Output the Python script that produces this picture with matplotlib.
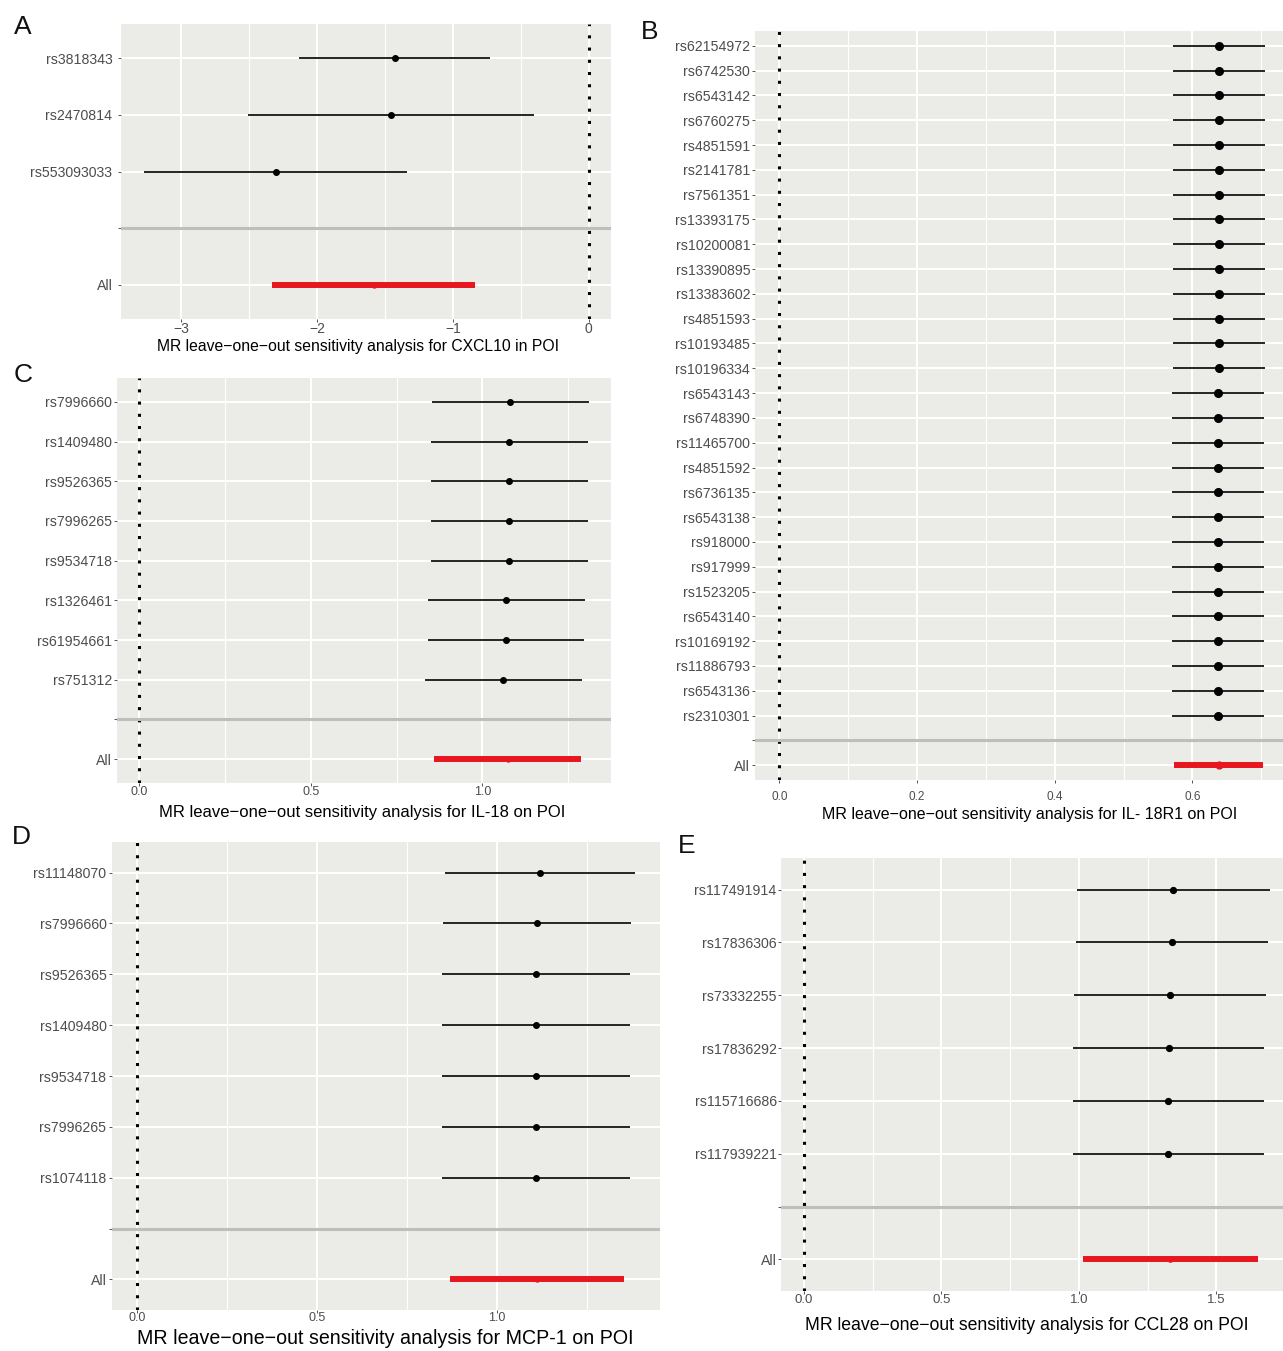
import matplotlib
matplotlib.use("Agg")
import matplotlib.pyplot as plt
import numpy as np

# ---------------- data ----------------
# Panel A: CXCL10
A_snps = ["rs3818343", "rs2470814", "rs553093033"]
A_b = [-1.429, -1.456, -2.306]
A_lo = [-2.131, -2.508, -3.277]
A_hi = [-0.724, -0.401, -1.336]
A_all = [-1.584, -2.333, -0.835]   # b, lo, hi
A_major = [-3, -2, -1, 0]
A_major_labels = ["\u22123", "\u22122", "\u22121", "0"]
A_minor = [-2.5, -1.5, -0.5]
A_title = "MR leave\u2212one\u2212out sensitivity analysis for CXCL10 in POI"

# Panel B: IL-18R1
B_snps = ["rs62154972", "rs6742530", "rs6543142", "rs6760275", "rs4851591",
          "rs2141781", "rs7561351", "rs13393175", "rs10200081", "rs13390895",
          "rs13383602", "rs4851593", "rs10193485", "rs10196334", "rs6543143",
          "rs6748390", "rs11465700", "rs4851592", "rs6736135", "rs6543138",
          "rs918000", "rs917999", "rs1523205", "rs6543140", "rs10169192",
          "rs11886793", "rs6543136", "rs2310301"]
B_b = [0.638] * 14 + [0.6375] * 14
B_lo = [0.572] * 14 + [0.571] * 14
B_hi = [0.705] * 14 + [0.704] * 14
B_all = [0.638, 0.573, 0.703]
B_major = [0.0, 0.2, 0.4, 0.6]
B_major_labels = ["0.0", "0.2", "0.4", "0.6"]
B_minor = [0.1, 0.3, 0.5, 0.7]
B_title = "MR leave\u2212one\u2212out sensitivity analysis for IL- 18R1 on POI"

# Panel C: IL-18
C_snps = ["rs7996660", "rs1409480", "rs9526365", "rs7996265", "rs9534718",
          "rs1326461", "rs61954661", "rs751312"]
C_b = [1.080, 1.077, 1.077, 1.076, 1.076, 1.069, 1.068, 1.061]
C_lo = [0.852, 0.849, 0.849, 0.849, 0.849, 0.841, 0.840, 0.834]
C_hi = [1.309, 1.306, 1.306, 1.306, 1.306, 1.298, 1.296, 1.290]
C_all = [1.074, 0.860, 1.287]
C_major = [0.0, 0.5, 1.0]
C_major_labels = ["0.0", "0.5", "1.0"]
C_minor = [0.25, 0.75, 1.25]
C_title = "MR leave\u2212one\u2212out sensitivity analysis for IL-18 on POI"

# Panel D: MCP-1
D_snps = ["rs11148070", "rs7996660", "rs9526365", "rs1409480", "rs9534718",
          "rs7996265", "rs1074118"]
D_b = [1.120, 1.110, 1.109, 1.108, 1.108, 1.108, 1.107]
D_lo = [0.855, 0.851, 0.848, 0.848, 0.848, 0.848, 0.848]
D_hi = [1.383, 1.371, 1.370, 1.370, 1.370, 1.369, 1.369]
D_all = [1.110, 0.868, 1.352]
D_major = [0.0, 0.5, 1.0]
D_major_labels = ["0.0", "0.5", "1.0"]
D_minor = [0.25, 0.75, 1.25]
D_title = "MR leave\u2212one\u2212out sensitivity analysis for MCP-1 on POI"

# Panel E: CCL28
E_snps = ["rs117491914", "rs17836306", "rs73332255", "rs17836292",
          "rs115716686", "rs117939221"]
E_b = [1.342, 1.339, 1.331, 1.326, 1.325, 1.325]
E_lo = [0.992, 0.989, 0.982, 0.979, 0.979, 0.978]
E_hi = [1.694, 1.689, 1.679, 1.675, 1.673, 1.672]
E_all = [1.330, 1.015, 1.651]
E_major = [0.0, 0.5, 1.0, 1.5]
E_major_labels = ["0.0", "0.5", "1.0", "1.5"]
E_minor = [0.25, 0.75, 1.25, 1.75]
E_title = "MR leave\u2212one\u2212out sensitivity analysis for CCL28 on POI"

# ---------------- figure ----------------
plt.rcParams['font.family'] = ['Liberation Sans', 'DejaVu Sans']
W, H = 1283, 1351
fig = plt.figure(figsize=(W / 100, H / 100), dpi=100)

PANEL_BG = '#EBEBE7'
RED = '#E8161E'
TXT = '#4D4D4D'


def rect(l, t, r, b):
    return [l / W, 1 - b / H, (r - l) / W, (b - t) / H]


def panel(box, snps, b, lo, hi, allv, major, major_labels, minor, title,
          letter, letter_xy, title_xy, ms=4.0, xtick_size=9, xtick_pad=0.0,
          ytick_pad=1.5, title_size=12, ytick_size=10.2):
    l, t, r, bt = box
    ax = fig.add_axes(rect(l, t, r, bt))
    ax.set_facecolor(PANEL_BG)
    for s in ax.spines.values():
        s.set_visible(False)
    n = len(snps)
    ypos = np.arange(n, 0, -1) + 2.0
    xmin = min(min(lo), allv[1], 0.0)
    xmax = max(max(hi), allv[2], 0.0)
    pad = 0.05 * (xmax - xmin)
    ax.set_xlim(xmin - pad, xmax + pad)
    ax.set_ylim(0.4, n + 2.6)

    ax.set_xticks(major)
    ax.set_xticklabels(major_labels)
    ax.set_xticks(minor, minor=True)
    ax.set_yticks(list(ypos) + [2.0, 1.0])
    ax.set_yticklabels(list(snps) + ["", "All"])
    ax.set_axisbelow(True)
    ax.grid(which='major', axis='both', color='white', lw=1.5)
    ax.grid(which='minor', axis='x', color='white', lw=0.8)
    ax.tick_params(axis='both', which='major', color='#555555', length=2,
                   width=0.7, labelcolor=TXT)
    ax.tick_params(axis='x', which='major', labelsize=xtick_size, pad=xtick_pad)
    ax.tick_params(axis='y', which='major', labelsize=ytick_size, pad=ytick_pad)
    ax.tick_params(which='minor', length=0)

    ax.axvline(0, color='black', lw=2.2, linestyle=(0, (1, 3)),
               dash_capstyle='butt', zorder=2)
    ax.hlines(ypos, lo, hi, color='black', lw=1.2, zorder=3)
    ax.plot(b, ypos, 'o', color='black', ms=ms, zorder=4)
    ax.hlines([1.0], [allv[1]], [allv[2]], color=RED, lw=4.3, zorder=3)
    ax.plot([allv[0]], [1.0], 'o', color=RED, ms=ms * 0.9, zorder=4)
    ax.axhline(2.0, color='#BEBEBE', lw=2.2, zorder=5)

    ax.set_xlabel(title, fontsize=title_size, color='black', va='center')
    ax.xaxis.set_label_coords((title_xy[0] - l) / (r - l),
                              (bt - title_xy[1]) / (bt - t))
    fig.text(letter_xy[0] / W, 1 - letter_xy[1] / H, letter, fontsize=19,
             ha='center', va='center', color='#111111')
    return ax


panel((121.5, 24, 611, 319), A_snps, A_b, A_lo, A_hi, A_all, A_major,
      A_major_labels, A_minor, A_title, "A", (23, 27), (358, 347),
      ms=4.0, xtick_size=10, xtick_pad=0.3, ytick_pad=4.5, title_size=11.3)

panel((755, 31, 1289, 780), B_snps, B_b, B_lo, B_hi, B_all, B_major,
      B_major_labels, B_minor, B_title, "B", (650, 32), (1030, 815),
      ms=5.5, xtick_size=8.5, xtick_pad=5.8, ytick_pad=1.5, title_size=11.55)

panel((116.7, 378, 611, 783), C_snps, C_b, C_lo, C_hi, C_all, C_major,
      C_major_labels, C_minor, C_title, "C", (23, 375), (362, 812),
      ms=4.0, xtick_size=9, xtick_pad=0.3, ytick_pad=1.5, title_size=12)

panel((112, 842, 660, 1310), D_snps, D_b, D_lo, D_hi, D_all, D_major,
      D_major_labels, D_minor, D_title, "D", (21, 837), (385.5, 1339),
      ms=4.0, xtick_size=9, xtick_pad=-0.6, ytick_pad=2.0, title_size=14.1)

panel((780.6, 858, 1293, 1291), E_snps, E_b, E_lo, E_hi, E_all, E_major,
      E_major_labels, E_minor, E_title, "E", (687, 846), (1027, 1325),
      ms=4.2, xtick_size=9.5, xtick_pad=0.3, ytick_pad=0.8, title_size=12.7)

fig.savefig("out.png", dpi=100, facecolor='white')
